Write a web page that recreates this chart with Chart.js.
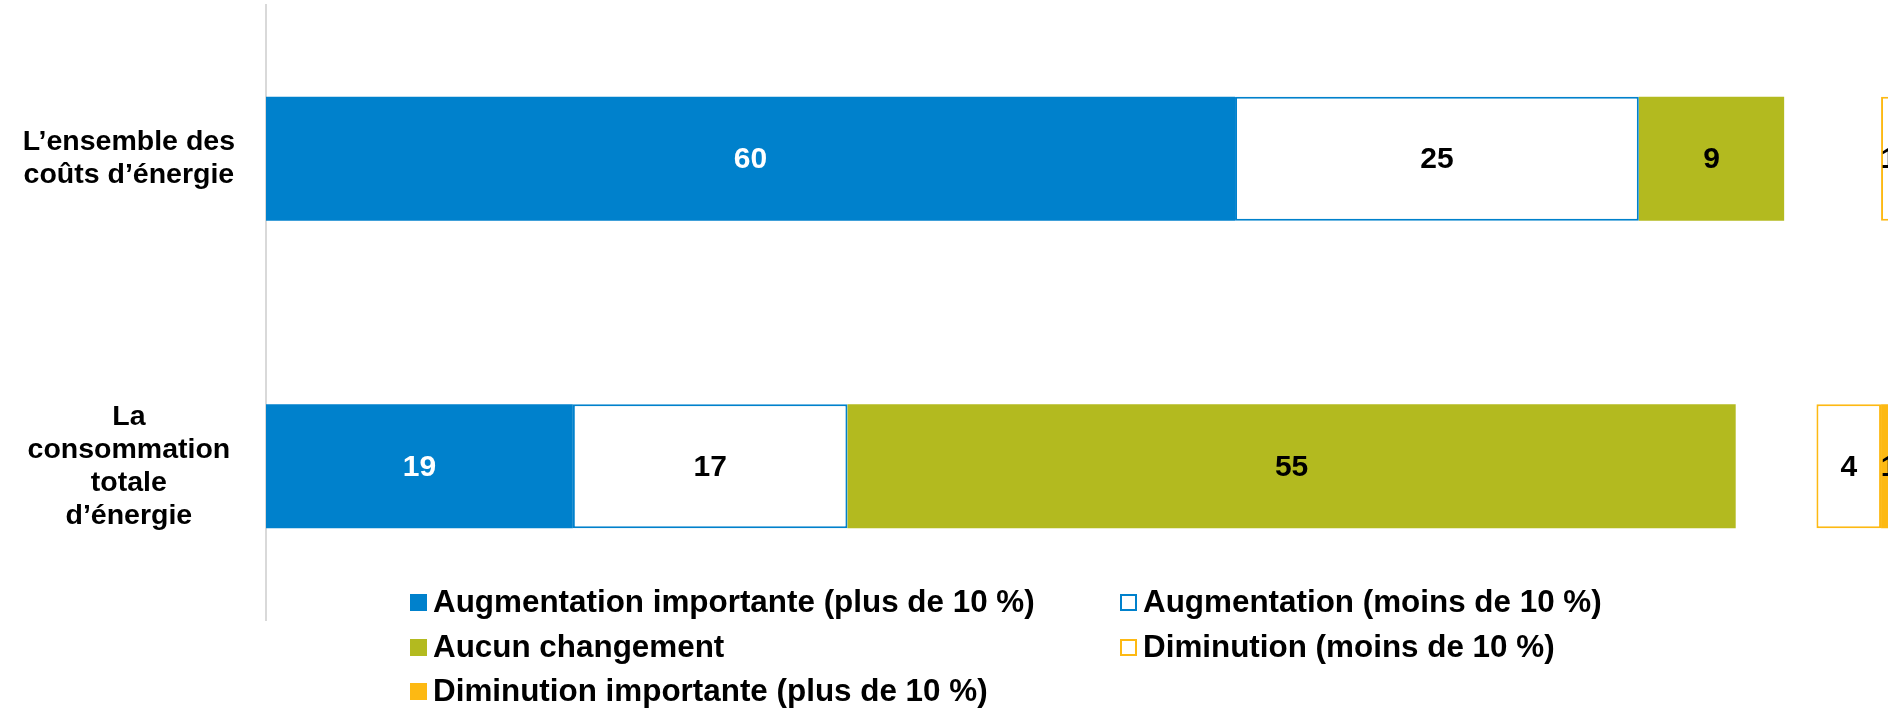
<!DOCTYPE html>
<html>
<head>
<meta charset="utf-8">
<script src="https://cdn.jsdelivr.net/npm/chart.js@4/dist/chart.umd.min.js"></script>
<style>
  body { margin: 0; background: #fff; }
  #wrap { position: relative; width: 1888px; height: 708px; overflow: hidden; }
  #legend { position: absolute; left: 0; top: 0; font-family: "Liberation Sans", Arial, sans-serif; font-weight: bold; font-size: 31.4px; color: #000; }
  .item { position: absolute; white-space: nowrap; line-height: 36px; }
  .box { display: inline-block; width: 17px; height: 17px; box-sizing: border-box; margin-right: 6px; vertical-align: 1px; }
</style>
</head>
<body>
<div id="wrap">
  <canvas id="mycanvas" width="1888" height="708"></canvas>
  <div id="legend"></div>
</div>
<script>
var categories = [
  ["L\u2019ensemble des", "co\u00fbts d\u2019\u00e9nergie"],
  ["La", "consommation", "totale", "d\u2019\u00e9nergie"]
];
var seriesNames = [
  "Augmentation importante (plus de 10 %)",
  "Augmentation (moins de 10 %)",
  "Aucun changement",
  "Diminution (moins de 10 %)",
  "Diminution importante (plus de 10 %)"
];
var augImportante = [60, 19];
var augMoins = [25, 17];
var aucun = [9, 55];
var ecart = [6, 5];          // blank space before the decreases
var dimMoins = [1, 4];
var dimImportante = [0, 1];

var blue = '#0081cc';
var green = '#b3ba1f';
var orange = '#fdb913';

var datasets = [
  { label: seriesNames[0], data: augImportante, backgroundColor: blue, borderWidth: 0, txt: '#fff' },
  { label: seriesNames[1], data: augMoins, backgroundColor: '#fff', borderColor: blue, borderWidth: 2, borderSkipped: false, txt: '#000' },
  { label: seriesNames[2], data: aucun, backgroundColor: green, borderWidth: 0, txt: '#000' },
  { label: '', data: ecart, backgroundColor: 'rgba(0,0,0,0)', borderWidth: 0, spacer: true },
  { label: seriesNames[3], data: dimMoins, backgroundColor: '#fff', borderColor: orange, borderWidth: 2, borderSkipped: false, txt: '#000' },
  { label: seriesNames[4], data: dimImportante, backgroundColor: orange, borderWidth: 0, txt: '#000' }
];

var valueLabels = {
  id: 'valueLabels',
  afterDatasetsDraw: function(chart) {
    var ctx = chart.ctx;
    ctx.save();
    ctx.font = 'bold 30px "Liberation Sans", Arial, sans-serif';
    ctx.textAlign = 'center';
    ctx.textBaseline = 'middle';
    chart.data.datasets.forEach(function(ds, i) {
      if (ds.spacer) return;
      chart.getDatasetMeta(i).data.forEach(function(bar, j) {
        if (!ds.data[j]) return;
        ctx.fillStyle = ds.txt;
        ctx.fillText(ds.data[j], (bar.x + bar.base) / 2, bar.y + 1);
      });
    });
    ctx.restore();
  }
};

var ctx = document.getElementById('mycanvas');
var myChart = new Chart(ctx, {
  type: 'bar',
  data: { labels: categories, datasets: datasets },
  options: {
    indexAxis: 'y',
    responsive: false,
    animation: false,
    events: [],
    layout: { padding: { top: 5, bottom: 88, left: 0, right: 0 } },
    datasets: { bar: { barPercentage: 0.403, categoryPercentage: 1 } },
    plugins: { legend: { display: false }, tooltip: { enabled: false } },
    scales: {
      x: { stacked: true, display: false, min: 0, max: 100.43 },
      y: {
        stacked: true,
        grid: { display: false, drawTicks: false },
        border: { display: true, color: '#d9d9d9', width: 2 },
        ticks: {
          color: '#000',
          crossAlign: 'center',
          padding: 31,
          font: { family: '"Liberation Sans", Arial, sans-serif', size: 28.5, weight: 'bold', lineHeight: 1.16 }
        },
        afterFit: function(scale) {
          scale.width = 266;
          scale.paddingTop = 0;
          scale.paddingBottom = 0;
        }
      }
    }
  },
  plugins: [valueLabels]
});

// legend placed under the plot, as in the original
var legendItems = [
  { name: seriesNames[0], left: 410, top: 584, style: 'background:' + blue },
  { name: seriesNames[1], left: 1120, top: 584, style: 'background:#fff;border:2px solid ' + blue },
  { name: seriesNames[2], left: 410, top: 629, style: 'background:' + green },
  { name: seriesNames[3], left: 1120, top: 629, style: 'background:#fff;border:2px solid ' + orange },
  { name: seriesNames[4], left: 410, top: 673, style: 'background:' + orange }
];
var html = '';
legendItems.forEach(function(it) {
  html += '<div class="item" style="left:' + it.left + 'px;top:' + it.top + 'px"><span class="box" style="' + it.style + '"></span>' + it.name + '</div>';
});
document.getElementById('legend').innerHTML = html;
</script>
</body>
</html>
